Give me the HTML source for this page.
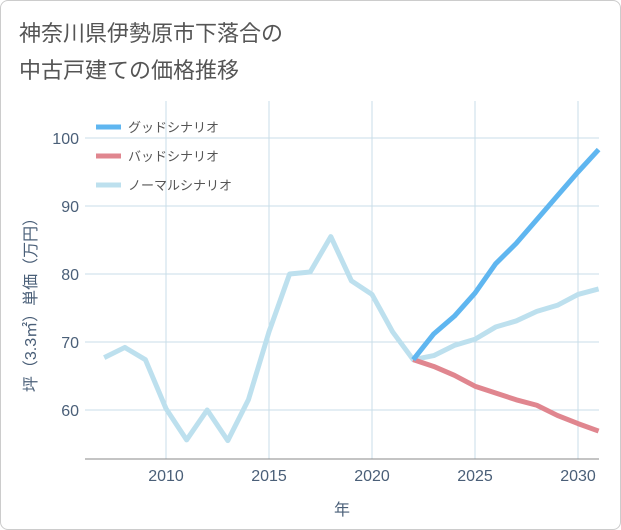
<!DOCTYPE html>
<html><head><meta charset="utf-8"><style>
body{margin:0;background:#fff;font-family:"Liberation Sans","Noto Sans CJK JP",sans-serif;}
#wrap{position:relative;width:619px;height:528px;border:1px solid #ccc;border-radius:8px;overflow:hidden;background:#fff}
</style></head><body>
<div id="wrap">
<svg id="c" width="621" height="530">
<text x="18" y="40" font-size="22" fill="#555" font-family="Liberation Sans,Noto Sans CJK JP,sans-serif">神奈川県伊勢原市下落合の</text>
<text x="18" y="77" font-size="22" fill="#555" font-family="Liberation Sans,Noto Sans CJK JP,sans-serif">中古戸建ての価格推移</text>
<g id="grid"></g><g id="axes"></g><g id="lines"></g><g id="legend"></g>
</svg></div>
<script>
const years=[2007,2008,2009,2010,2011,2012,2013,2014,2015,2016,2017,2018,2019,2020,2021,2022,2023,2024,2025,2026,2027,2028,2029,2030,2031];
const normal=[67.7,69.2,67.4,60.2,55.6,60.0,55.5,61.5,71.5,80.0,80.3,85.5,79.0,77.0,71.5,67.4,68.0,69.5,70.4,72.2,73.1,74.5,75.4,77.0,77.8];
const fYears=[2022,2023,2024,2025,2026,2027,2028,2029,2030,2031];
const good=[67.4,71.2,73.8,77.2,81.5,84.5,88.0,91.5,95.0,98.3];
const bad=[67.4,66.4,65.1,63.5,62.5,61.5,60.7,59.2,58.0,56.9];
const xTicks=[2010,2015,2020,2025,2030];
const yTicks=[60,70,80,90,100];
const L=84,R=598,T=100,B=458;
const X=y=>165+(y-2010)*20.6;
const Y=v=>341-(v-70)*6.8;
const ns="http://www.w3.org/2000/svg";
function mk(p,t,a){const e=document.createElementNS(ns,t);for(const k in a)e.setAttribute(k,a[k]);p.appendChild(e);return e;}
const g=document.getElementById('grid'),ax=document.getElementById('axes'),ln=document.getElementById('lines'),lg=document.getElementById('legend');
xTicks.forEach(yr=>{const l=mk(g,'line',{x1:X(yr),x2:X(yr),y1:T,y2:B,stroke:'#c9dde9','stroke-width':1});

});
yTicks.forEach(v=>{const l=mk(g,'line',{x1:L,x2:R,y1:Y(v),y2:Y(v),stroke:'#c9dde9','stroke-width':1});

});
const a2=mk(ax,'line',{x1:L,x2:R,y1:B,y2:B,stroke:'#888'});


xTicks.forEach(t=>{const e=mk(ax,'text',{x:X(t),y:B+22,'text-anchor':'middle','font-size':16,fill:'#4a5f78'});e.textContent=t;

});
yTicks.forEach(t=>{const e=mk(ax,'text',{x:L-6,y:Y(t)+6,'text-anchor':'end','font-size':16,fill:'#4a5f78'});e.textContent=t;

});
const xt=mk(ax,'text',{x:341,y:514,'text-anchor':'middle','font-size':16,fill:'#4a5f78'});xt.textContent='年';


const yt=mk(ax,'text',{x:0,y:0,'text-anchor':'middle','font-size':16,fill:'#4a5f78',transform:'translate(35,300) rotate(-90)'});yt.textContent='坪（3.3㎡）単価（万円）';


function line(xs,vs,col,name){const d=xs.map((x,i)=>(i?'L':'M')+X(x)+','+Y(vs[i])).join(' ');const p=mk(ln,'path',{d:d,fill:'none',stroke:col,'stroke-width':5,'stroke-linejoin':'round'});

}
line(years,normal,'#bde0ee','normal-scenario-line');
line(fYears,bad,'#e0868f','bad-scenario-line');
line(fYears,good,'#5fb6f0','good-scenario-line');
[['グッドシナリオ','#5fb6f0',126],['バッドシナリオ','#e0868f',155],['ノーマルシナリオ','#bde0ee',184]].forEach(([t,c,y])=>{
const l=mk(lg,'line',{x1:95,x2:120,y1:y,y2:y,stroke:c,'stroke-width':5});


const e=mk(lg,'text',{x:127,y:y+5,'font-size':13,fill:'#555'});e.textContent=t;

});
</script></body></html>
